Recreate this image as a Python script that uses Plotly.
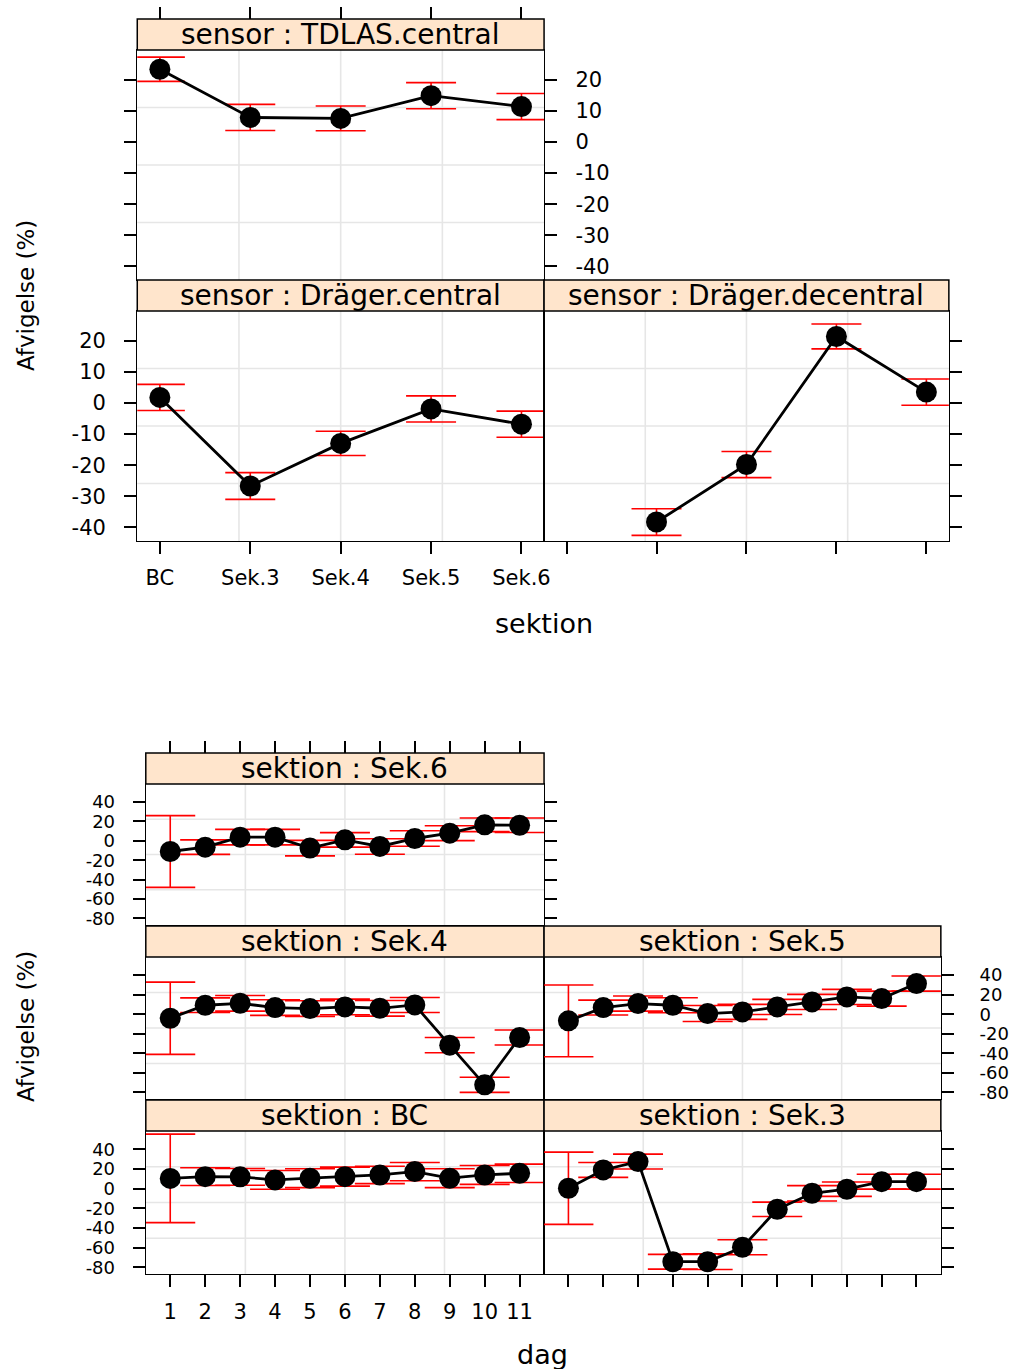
import plotly.graph_objects as go

W, H = 1017, 1369          # reference frame (layout is expressed in these pixels)
FIG_W, FIG_H = 1025, 1373  # rendered size (compensates the capture scaling)

# ---------------- data ----------------
sections = ["BC", "Sek.3", "Sek.4", "Sek.5", "Sek.6"]
tdlas_mean = [23.4, 7.9, 7.6, 14.9, 11.4]
tdlas_err = [3.9, 4.2, 4.0, 4.2, 4.2]
drc_mean = [1.8, -26.7, -13.0, -1.9, -6.8]
drc_err = [4.2, 4.3, 3.9, 4.2, 4.2]
drd_sections = ["Sek.3", "Sek.4", "Sek.5", "Sek.6"]
drd_mean = [-38.3, -19.8, 21.4, 3.5]
drd_err = [4.3, 4.2, 4.0, 4.2]

days = [1, 2, 3, 4, 5, 6, 7, 8, 9, 10, 11]
sek6_mean = [-11.0, -6.5, 3.8, 3.8, -7.5, 1.0, -5.8, 2.4, 7.9, 16.5, 16.1]
sek6_err = [37, 7.5, 8, 8, 8, 7.5, 8, 8, 7.7, 7, 7.5]
sek4_mean = [-4.1, 9.2, 11.2, 6.8, 5.8, 7.5, 6.1, 9.5, -31.7, -72.3, -23.8]
sek4_err = [37, 7.5, 8, 8, 8, 8, 8, 7.7, 7.8, 7.7, 7.7]
sek5_mean = [-6.8, 6.8, 10.9, 9.2, 0.7, 2.4, 7.5, 12.6, 17.7, 16.0, 31.4]
sek5_err = [36.7, 7.6, 7.7, 7.7, 8.2, 7.7, 7.7, 7.7, 7.7, 7.7, 7.7]
bc_mean = [10.4, 12.2, 12.0, 8.9, 10.6, 12.2, 13.9, 17.3, 10.6, 13.9, 15.6]
bc_err = [45, 9, 8.5, 9.5, 9.6, 9.7, 8.8, 9.3, 9.6, 9.6, 9.3]
sek3_mean = [0.4, 19.0, 27.5, -74.3, -74.3, -59.6, -21.0, -4.7, -0.6, 7.1, 7.1]
sek3_err = [36.7, 7.6, 7.6, 7.5, 8, 7.6, 7.3, 7.8, 7.3, 7.6, 7.6]

upper_yticks = [-40, -30, -20, -10, 0, 10, 20]
lower_yticks = [-80, -60, -40, -20, 0, 20, 40]

# ---------------- layout helpers ----------------
def fx(p):
    return p / W


def fy(p):
    return 1 - p / H


def ref(kind, i):
    return kind if i == 1 else f"{kind}{i}"


def axname(kind, i):
    return f"{kind}axis" if i == 1 else f"{kind}axis{i}"


FONT = "DejaVu Sans"
TICKFONT = dict(family=FONT, size=21, color="black")
LOWER_YTICKFONT = dict(family=FONT, size=18, color="black")
STRIPFONT = dict(family=FONT, size=28, color="black")
TITLEFONT = dict(family=FONT, size=27, color="black")

panels = [
    dict(label="sensor : TDLAS.central", x=sections, y=tdlas_mean, e=tdlas_err,
         box=(137, 543, 50, 280), strip=(19, 50), cat=True,
         yside="right", ylab=True, ymirror="ticks", xticks=False, xlab=False, top=19),
    dict(label="sensor : Dräger.central", x=sections, y=drc_mean, e=drc_err,
         box=(137, 543, 311, 541), strip=(280, 311), cat=True,
         yside="left", ylab=True, ymirror=True, xticks=True, xlab=True, top=None),
    dict(label="sensor : Dräger.decentral", x=drd_sections, y=drd_mean, e=drd_err,
         box=(543, 947, 311, 541), strip=(280, 311), cat=True,
         yside="right", ylab=False, ymirror=True, xticks=True, xlab=False, top=None),
    dict(label="sektion : Sek.6", x=days, y=sek6_mean, e=sek6_err,
         box=(145.5, 543, 784, 925), strip=(753, 784), cat=False,
         yside="left", ylab=True, ymirror="ticks", xticks=False, xlab=False, top=753),
    dict(label="sektion : Sek.4", x=days, y=sek4_mean, e=sek4_err,
         box=(145.5, 543, 957, 1099), strip=(926, 957), cat=False,
         yside="left", ylab=False, ymirror=True, xticks=False, xlab=False, top=None),
    dict(label="sektion : Sek.5", x=days, y=sek5_mean, e=sek5_err,
         box=(543, 939, 957, 1099), strip=(926, 957), cat=False,
         yside="right", ylab=True, ymirror=True, xticks=False, xlab=False, top=None),
    dict(label="sektion : BC", x=days, y=bc_mean, e=bc_err,
         box=(145.5, 543, 1131, 1274), strip=(1100, 1131), cat=False,
         yside="left", ylab=True, ymirror=True, xticks=True, xlab=True, top=None),
    dict(label="sektion : Sek.3", x=days, y=sek3_mean, e=sek3_err,
         box=(543, 939, 1131, 1274), strip=(1100, 1131), cat=False,
         yside="right", ylab=False, ymirror=True, xticks=True, xlab=False, top=None),
]

fig = go.Figure()
layout = dict(
    width=FIG_W, height=FIG_H, margin=dict(l=0, r=0, t=0, b=0),
    paper_bgcolor="white", plot_bgcolor="white", showlegend=False,
    font=dict(family=FONT, size=21, color="black"),
)
shapes = []
annotations = []
extra = len(panels)

for i, p in enumerate(panels, start=1):
    x0, x1, y0, y1 = p["box"]
    fig.add_trace(go.Scatter(
        x=p["x"], y=p["y"], xaxis=ref("x", i), yaxis=ref("y", i),
        mode="lines+markers",
        line=dict(color="black", width=2.8),
        marker=dict(size=21, color="black"),
        error_y=dict(type="data", array=p["e"], color="red", thickness=1.6, width=25),
        hoverinfo="skip",
    ))
    if p["cat"]:
        xr = [-0.25, 4.25]
        yr = [-44.4, 29.6]
        yt = upper_yticks
        ytf = TICKFONT
        xstand = 6
        ystand = 14
    else:
        xr = [0.3, 11.7]
        yr = [-86.8, 58.6]
        yt = lower_yticks
        ytf = LOWER_YTICKFONT
        xstand = 7
        ystand = 14 if p["yside"] == "left" else 22
    xa = dict(
        domain=[fx(x0), fx(x1)], anchor=ref("y", i), range=xr,
        showgrid=False, zeroline=False, showline=True, linecolor="black",
        linewidth=1.3, mirror=True,
        ticks="outside" if p["xticks"] else "", ticklen=12, tickwidth=1.5,
        tickcolor="black", showticklabels=p["xlab"], tickfont=TICKFONT,
        ticklabelstandoff=xstand,
    )
    if p["cat"]:
        xa.update(type="category", categoryorder="array", categoryarray=sections)
    else:
        xa.update(type="linear", tickmode="array", tickvals=days,
                  ticktext=[str(d) for d in days])
    ya = dict(
        domain=[fy(y1), fy(y0)], anchor=ref("x", i), side=p["yside"], range=yr,
        tickmode="array", tickvals=yt, ticktext=[str(v) for v in yt],
        showgrid=False, zeroline=False, showline=True, linecolor="black",
        linewidth=1.3, mirror=p["ymirror"], ticks="outside", ticklen=12,
        tickwidth=1.5, tickcolor="black", showticklabels=p["ylab"],
        tickfont=ytf, ticklabelstandoff=ystand,
    )
    layout[axname("x", i)] = xa
    layout[axname("y", i)] = ya

    # ticks above the strip for the top row
    if p["top"] is not None:
        extra += 1
        n = extra
        tv = list(range(len(sections))) if p["cat"] else days
        layout[axname("x", n)] = dict(
            overlaying=ref("x", i), anchor="free", position=fy(p["top"]),
            side="top", range=xr, type="linear", tickmode="array", tickvals=tv,
            ticks="outside", ticklen=12, tickwidth=1.5, tickcolor="black",
            showticklabels=False, showline=False, showgrid=False, zeroline=False,
        )
        fig.add_trace(go.Scatter(x=[None], y=[None], xaxis=ref("x", n),
                                 yaxis=ref("y", i), mode="markers",
                                 hoverinfo="skip", showlegend=False))

    # panel grid (quarters)
    for f in (0.25, 0.5, 0.75):
        shapes.append(dict(type="line", xref=f"{ref('x', i)} domain",
                           yref=f"{ref('y', i)} domain", x0=f, x1=f, y0=0, y1=1,
                           line=dict(color="#E6E6E6", width=1.6), layer="below"))
        shapes.append(dict(type="line", xref=f"{ref('x', i)} domain",
                           yref=f"{ref('y', i)} domain", x0=0, x1=1, y0=f, y1=f,
                           line=dict(color="#E6E6E6", width=1.6), layer="below"))

    # strip
    s0, s1 = p["strip"]
    shapes.append(dict(type="rect", xref="paper", yref="paper",
                       x0=fx(x0), x1=fx(x1), y0=fy(s1), y1=fy(s0),
                       fillcolor="#FFE5CC", line=dict(color="black", width=1.5),
                       layer="above"))
    annotations.append(dict(text=p["label"], xref="paper", yref="paper",
                            x=fx((x0 + x1) / 2), y=fy((s0 + s1) / 2),
                            showarrow=False, font=STRIPFONT,
                            xanchor="center", yanchor="middle"))

# axis titles
annotations += [
    dict(text="sektion", xref="paper", yref="paper", x=fx(543), y=fy(623),
         showarrow=False, font=TITLEFONT, xanchor="center", yanchor="middle"),
    dict(text="dag", xref="paper", yref="paper", x=fx(541), y=fy(1354),
         showarrow=False, font=TITLEFONT, xanchor="center", yanchor="middle"),
    dict(text="Afvigelse (%)", xref="paper", yref="paper", x=fx(26), y=fy(296),
         showarrow=False, font=dict(family=FONT, size=23, color="black"),
         textangle=-90, xanchor="center", yanchor="middle"),
    dict(text="Afvigelse (%)", xref="paper", yref="paper", x=fx(26), y=fy(1027),
         showarrow=False, font=dict(family=FONT, size=23, color="black"),
         textangle=-90, xanchor="center", yanchor="middle"),
]

layout["shapes"] = shapes
layout["annotations"] = annotations
fig.update_layout(**layout)
fig.write_html("out.html", config={"displayModeBar": False},
               post_script="document.body.style.margin='0';document.body.style.overflow='hidden';")
